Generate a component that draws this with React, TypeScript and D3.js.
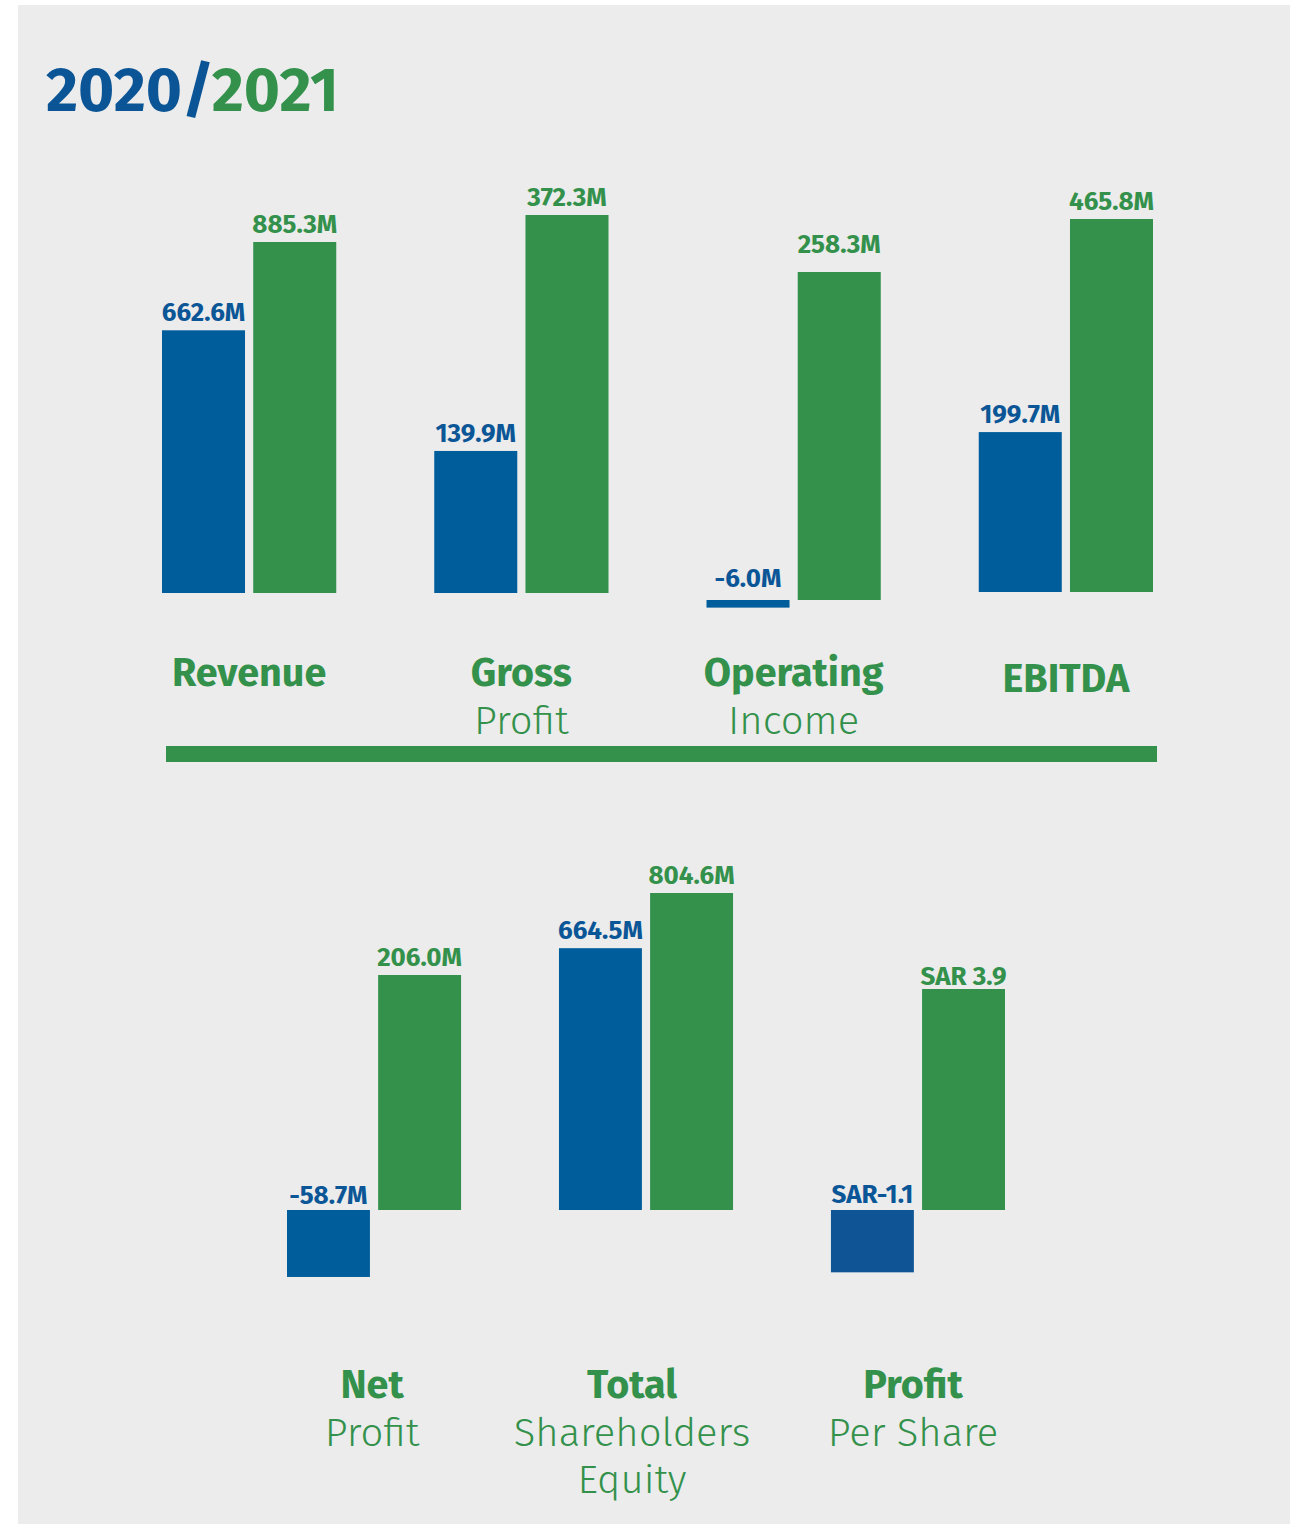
import React from "react";
import * as d3 from "d3";

const years = ["2020", "2021"];

const topCategories = ["Revenue", "Gross Profit", "Operating Income", "EBITDA"];
const topBold = ["Revenue", "Gross", "Operating", "EBITDA"];
const topLight = ["", "Profit", "Income", ""];
const top2020 = [662.6, 139.9, -6.0, 199.7];
const top2021 = [885.3, 372.3, 258.3, 465.8];

const bottomCategories = ["Net Profit", "Total Shareholders Equity", "Profit Per Share"];
const bottomBold = ["Net", "Total", "Profit"];
const bottomLight = [["Profit"], ["Shareholders", "Equity"], ["Per Share"]];
const bottom2020 = [-58.7, 664.5, -1.1];
const bottom2021 = [206.0, 804.6, 3.9];
const bottomPrefix = ["", "", "SAR"];
const bottomSuffix = ["M", "M", ""];

const BLUE = "#005d9b";
const BLUE_TEXT = "#0b5697";
const GREEN = "#33914c";
const BG = "#ebeceb";
const FONT = "'Fira Sans', 'Open Sans', 'Noto Sans', sans-serif";

// layout
const topHeights = [351, 378, 328, 373];
const topBaselines = [593, 593, 600, 592];
const topBoldY = [686, 686, 686, 692];
const topLabelGap = [[9, 9], [9, 9], [13, 19], [9, 9]];
const bottomHeights = [235, 317, 221];
const bottomBaseline = 1210;
const bottomBlueFill = [BLUE, BLUE, "#0f5596"];
const bottomLabelShift = [-2, -14, -5];
const bottomLabelGap = [[6, 9], [9, 9], [7, 4]];

function fmt(v: number, prefix: string, suffix: string) {
  const s = v.toFixed(1);
  if (prefix === "SAR") return v < 0 ? `SAR${s}` : `SAR ${s}`;
  return `${prefix}${s}${suffix}`;
}

function Group({ x0, bw, baseline, v20, v21, height, prefix, suffix, blueFill, gaps }: any) {
  const inner = d3.scaleBand<string>().domain(years).range([0, bw]).paddingInner(0.09);
  const y = d3.scaleLinear().domain([0, v21]).range([0, height]);
  const vals = [v20, v21];
  return (
    <g transform={`translate(${x0},0)`}>
      {vals.map((v, i) => {
        const h = y(Math.abs(v));
        const top = v >= 0 ? baseline - h : baseline;
        const x = inner(years[i])!;
        const w = inner.bandwidth();
        const labelY = (v >= 0 ? top : baseline) - gaps[i];
        return (
          <g key={i}>
            <rect x={x} y={top} width={w} height={Math.max(h, 1)} fill={i === 0 ? blueFill || BLUE : GREEN} />
            <text
              x={x + w / 2}
              y={labelY}
              textAnchor="middle"
              fontFamily={FONT}
              fontWeight={700}
              fontSize={26}
              fill={i === 0 ? BLUE_TEXT : GREEN}
            >
              {fmt(v, prefix, suffix)}
            </text>
          </g>
        );
      })}
    </g>
  );
}

export default function App() {
  const xTop = d3.scaleBand<string>().domain(topCategories).range([162, 1153]).paddingInner(0.36);
  const xBot = d3.scaleBand<string>().domain(bottomCategories).range([287, 1005]).paddingInner(0.36);

  return (
    <svg
      width={1291}
      height={1524}
      style={{ position: "absolute", left: 0, top: 0, display: "block" }}
    >
      <rect x={0} y={0} width={1291} height={1524} fill="#ffffff" />
      <rect x={18} y={5} width={1272} height={1519} fill={BG} />
      <text x={46} y={111} fontFamily={FONT} fontWeight={700} fontSize={62}>
        <tspan fill="#0b5597">2020/</tspan>
        <tspan fill={GREEN}>2021</tspan>
      </text>

      {topCategories.map((c, i) => (
        <Group
          key={c}
          x0={xTop(c)}
          bw={xTop.bandwidth()}
          baseline={topBaselines[i]}
          v20={top2020[i]}
          v21={top2021[i]}
          height={topHeights[i]}
          prefix=""
          suffix="M"
          gaps={topLabelGap[i]}
        />
      ))}
      {topCategories.map((c, i) => {
        const cx = xTop(c)! + xTop.bandwidth() / 2;
        return (
          <g key={c + "l"}>
            <text
              x={cx}
              y={topBoldY[i]}
              textAnchor="middle"
              fontFamily={FONT}
              fontWeight={700}
              fontSize={39.5}
              fill={GREEN}
            >
              {topBold[i]}
            </text>
            {topLight[i] !== "" && (
              <text
                x={cx}
                y={734}
                textAnchor="middle"
                fontFamily={FONT}
                fontWeight={300}
                fontSize={40}
                fill={GREEN}
              >
                {topLight[i]}
              </text>
            )}
          </g>
        );
      })}

      <rect x={166} y={746} width={991} height={16} fill={GREEN} />

      {bottomCategories.map((c, i) => (
        <Group
          key={c}
          x0={xBot(c)}
          bw={xBot.bandwidth()}
          baseline={bottomBaseline}
          v20={bottom2020[i]}
          v21={bottom2021[i]}
          height={bottomHeights[i]}
          prefix={bottomPrefix[i]}
          suffix={bottomSuffix[i]}
          blueFill={bottomBlueFill[i]}
          gaps={bottomLabelGap[i]}
        />
      ))}
      {bottomCategories.map((c, i) => {
        const cx = xBot(c)! + xBot.bandwidth() / 2 + bottomLabelShift[i];
        return (
          <g key={c + "l"}>
            <text
              x={cx}
              y={1398}
              textAnchor="middle"
              fontFamily={FONT}
              fontWeight={700}
              fontSize={39.5}
              fill={GREEN}
            >
              {bottomBold[i]}
            </text>
            {bottomLight[i].map((t, j) => (
              <text
                key={t}
                x={cx}
                y={1446 + j * 47}
                textAnchor="middle"
                fontFamily={FONT}
                fontWeight={300}
                fontSize={40}
                fill={GREEN}
              >
                {t}
              </text>
            ))}
          </g>
        );
      })}
    </svg>
  );
}
